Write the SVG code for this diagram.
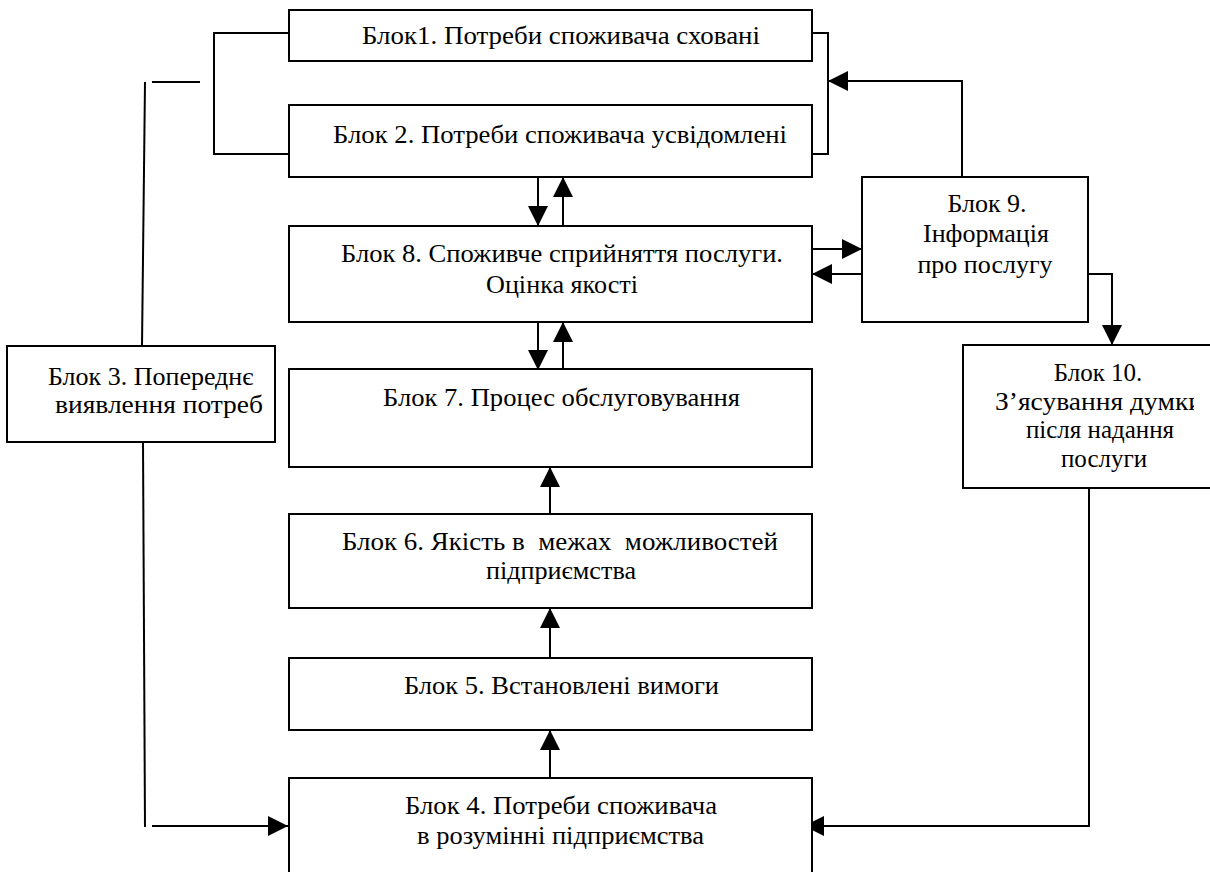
<svg xmlns="http://www.w3.org/2000/svg" width="1210" height="872" viewBox="0 0 1210 872">
<style>
.box{fill:#fff;stroke:#000;stroke-width:2}
.ln{fill:none;stroke:#000;stroke-width:2}
.ar{fill:none;stroke:#000;stroke-width:2;marker-end:url(#ah)}
.t{font-family:'Liberation Serif','Times New Roman',serif;font-size:25px;fill:#000}
.c{text-anchor:middle}
.big{font-size:26px}
</style>
<defs>
<marker id="ah" markerUnits="userSpaceOnUse" markerWidth="20" markerHeight="20" refX="20" refY="10" orient="auto" viewBox="0 0 20 20">
<path d="M0,0 L20,10 L0,20 z" fill="#000"/>
</marker>
<clipPath id="c3"><rect x="0" y="340" width="264" height="110"/></clipPath>
<clipPath id="c10"><rect x="960" y="340" width="234" height="150"/></clipPath>
</defs>
<rect width="1210" height="872" fill="#fff"/>
<g id="connectors">
<polyline class="ln" points="289,33 214,33 214,154 289,154"/>
<polyline class="ln" points="803,33 828,33 828,154 803,154"/>
<line class="ln" x1="152" y1="82" x2="200" y2="82"/>
<line class="ln" x1="145" y1="82" x2="142" y2="346"/>
<line class="ln" x1="143" y1="442" x2="145" y2="827"/>
<line class="ar" x1="152" y1="826" x2="288" y2="826"/>
<polyline class="ar" points="962,177 962,81 828,81"/>
<line class="ar" x1="812" y1="249" x2="862" y2="249"/>
<line class="ar" x1="862" y1="274" x2="812" y2="274"/>
<polyline class="ar" points="1088,274 1112,274 1112,345"/>
<polyline class="ar" points="1089,488 1089,826 804,826"/>
<line class="ar" x1="538" y1="177" x2="538" y2="226"/>
<line class="ar" x1="563" y1="226" x2="563" y2="177"/>
<line class="ar" x1="538" y1="322" x2="538" y2="370"/>
<line class="ar" x1="563" y1="370" x2="563" y2="322"/>
<line class="ar" x1="550" y1="514" x2="550" y2="467"/>
<line class="ar" x1="550" y1="658" x2="550" y2="608"/>
<line class="ar" x1="550" y1="778" x2="550" y2="730"/>
</g>
<g id="block1">
<rect class="box" x="289" y="10" width="523" height="51"/>
<text class="t" x="362" y="44" textLength="398" lengthAdjust="spacingAndGlyphs">Блок1. Потреби споживача сховані</text>
</g>
<g id="block2">
<rect class="box" x="289" y="105" width="523" height="72"/>
<text class="t" x="333" y="143" textLength="454" lengthAdjust="spacingAndGlyphs">Блок 2. Потреби споживача усвідомлені</text>
</g>
<g id="block8">
<rect class="box" x="289" y="226" width="523" height="96"/>
<text class="t" x="341" y="262" textLength="442" lengthAdjust="spacingAndGlyphs">Блок 8. Споживче сприйняття послуги.</text>
<text class="t" x="486" y="293" textLength="152" lengthAdjust="spacingAndGlyphs">Оцінка якості</text>
</g>
<g id="block7">
<rect class="box" x="289" y="369" width="523" height="98"/>
<text class="t" x="383" y="406" textLength="357" lengthAdjust="spacingAndGlyphs">Блок 7. Процес обслуговування</text>
</g>
<g id="block6">
<rect class="box" x="289" y="514" width="523" height="94"/>
<text class="t" x="342" y="550" textLength="436" lengthAdjust="spacingAndGlyphs" xml:space="preserve">Блок 6. Якість в  межах  можливостей</text>
<text class="t" x="486" y="579" textLength="150" lengthAdjust="spacingAndGlyphs">підприємства</text>
</g>
<g id="block5">
<rect class="box" x="289" y="658" width="523" height="72"/>
<text class="t" x="404" y="694" textLength="315" lengthAdjust="spacingAndGlyphs">Блок 5. Встановлені вимоги</text>
</g>
<g id="block4">
<rect class="box" x="289" y="778" width="523" height="110"/>
<text class="t" x="405" y="814" textLength="312" lengthAdjust="spacingAndGlyphs">Блок 4. Потреби споживача</text>
<text class="t" x="417" y="844" textLength="287" lengthAdjust="spacingAndGlyphs">в розумінні підприємства</text>
</g>
<g id="block3">
<rect class="box" x="7" y="346" width="268" height="96"/>
<g clip-path="url(#c3)">
<text class="t big" x="48" y="385">Блок 3. Попереднє</text>
<text class="t big" x="55" y="413" textLength="208" lengthAdjust="spacingAndGlyphs">виявлення потреб</text>
</g>
</g>
<g id="block9">
<rect class="box" x="862" y="177" width="226" height="145"/>
<text class="t big c" x="987" y="212">Блок 9.</text>
<text class="t big c" x="986" y="242">Інформація</text>
<text class="t big c" x="985" y="273">про послугу</text>
</g>
<g id="block10">
<rect class="box" x="963" y="345" width="260" height="143"/>
<g clip-path="url(#c10)">
<text class="t c" x="1098" y="381">Блок 10.</text>
<text class="t" x="995" y="410" textLength="208" lengthAdjust="spacingAndGlyphs">З’ясування думки</text>
<text class="t c" x="1100" y="438">після надання</text>
<text class="t c" x="1104" y="467">послуги</text>
</g>
</g>
</svg>
